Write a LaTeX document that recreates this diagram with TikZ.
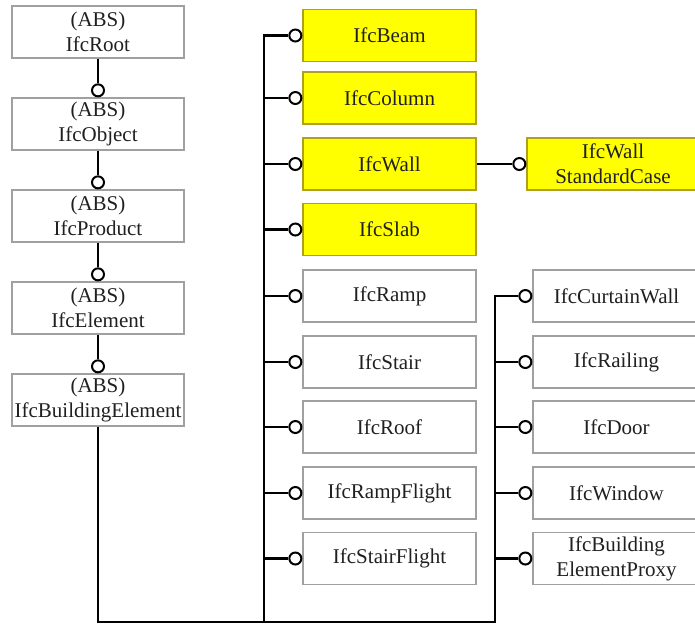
\documentclass[tikz,border=0pt]{standalone}
\usepackage{fontspec}
\setmainfont{Liberation Serif}
\definecolor{boxgray}{HTML}{A0A0A0}
\definecolor{yedge}{HTML}{B0A020}
\definecolor{yfill}{HTML}{FFFF00}
\definecolor{txt}{HTML}{202020}
\tikzset{
  box/.style={draw=boxgray, line width=1.3pt, fill=white, minimum width=172pt,
    minimum height=52pt, inner sep=0pt, align=center,
    font=\fontsize{21}{25}\selectfont, text=txt},
  rbox/.style={box, minimum width=173pt},
  ybox/.style={rbox, draw=yedge, fill=yfill},
  ball/.style={circle, draw=black, line width=2pt, fill=white, minimum size=12pt, inner sep=0pt},
  conn/.style={line width=2.6pt, black},
}
\begin{document}
\begin{tikzpicture}[x=1pt,y=-1pt]
\useasboundingbox (0,0) rectangle (695,625);
\clip (0,0) rectangle (695,625);

% left column
\node[box] (root) at (98,32) {(ABS)\\IfcRoot};
\node[box] (obj)  at (98,124) {(ABS)\\IfcObject};
\node[box] (prod) at (98,216) {(ABS)\\IfcProduct};
\node[box] (elem) at (98,308) {(ABS)\\IfcElement};
\node[box] (be)   at (98,400) {(ABS)\\IfcBuildingElement};
\foreach \n in {obj,prod,elem,be} \node[ball, anchor=south] (k\n) at (\n.north) {};
\draw[conn] (root.south) -- (kobj.north);
\draw[conn] (obj.south) -- (kprod.north);
\draw[conn] (prod.south) -- (kelem.north);
\draw[conn] (elem.south) -- (kbe.north);

% middle column
\foreach \n/\t/\y in {beam/IfcBeam/35.5, column/IfcColumn/98, wall/IfcWall/164, slab/IfcSlab/229.5}
  \node[ybox] (\n) at (389.5, \y) {\t};
\foreach \n/\t/\y in {ramp/IfcRamp/296, stair/IfcStair/362, roof/IfcRoof/427, rampflight/IfcRampFlight/493, stairflight/IfcStairFlight/558.5}
  \node[rbox] (\n) at (389.5, \y) {\t};
\foreach \n in {beam,column,wall,slab,ramp,stair,roof,rampflight,stairflight}
  \node[ball, anchor=east] (k\n) at (\n.west) {};

% wall standard case
\coordinate (wscx) at (613,0);
\node[ybox, minimum width=172pt] (wsc) at (wall -| wscx) {IfcWall\\StandardCase};
\node[ball, anchor=east] (kwsc) at (wsc.west) {};
\draw[conn, line width=2.2pt] (wall.east) -- (kwsc.west);

% right column
\foreach \n/\t/\y in {cw/IfcCurtainWall/296, rail/IfcRailing/362, door/IfcDoor/427, win/IfcWindow/493, proxy/{IfcBuilding\\ElementProxy}/558.5}
  \node[box, minimum width=167pt] (\n) at (616.5, \y) {\t};
\foreach \n in {cw,rail,door,win,proxy}
  \node[ball, anchor=east] (k\n) at (\n.west) {};

% trunks
\coordinate (t1bot) at (264,622);
\coordinate (t2bot) at (495,622);
\draw[conn] (kbeam.west) -| (t1bot);
\foreach \n in {column,wall,slab,ramp,stair,roof,rampflight,stairflight}
  \draw[conn] (k\n.west) -- (k\n.west -| t1bot);
\draw[conn] (be.south) |- (t2bot) |- (kcw.west);
\foreach \n in {rail,door,win,proxy}
  \draw[conn] (k\n.west) -- (k\n.west -| t2bot);
\end{tikzpicture}
\end{document}
